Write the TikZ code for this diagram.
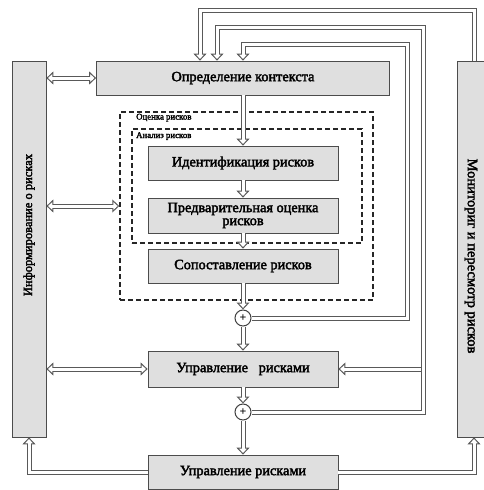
\documentclass[tikz,border=0pt]{standalone}
\usepackage{fontspec}
\setmainfont{Liberation Serif}
\newfontfamily\heavyfont[FakeBold=2.5]{Liberation Serif}
\usetikzlibrary{arrows.meta,positioning,calc}

\begin{document}
\begin{tikzpicture}[
        x=1pt, y=-1pt,
        every node/.style={align=center},
        box/.style={draw=black!70, fill=gray!25, line width=0.8pt, inner sep=2pt,
            font=\heavyfont\fontsize{14.3}{15}\selectfont, minimum width=190pt, minimum height=34pt},
        sidebox/.style={draw=black!70, fill=gray!25, line width=0.8pt, minimum width=34pt, minimum height=376pt},
        sidetext/.style={font=\heavyfont\fontsize{12.5}{14}\selectfont, inner sep=0pt},
        dashbox/.style={draw=black!85, line width=1.5pt, dash pattern=on 5pt off 3pt},
        small/.style={font=\heavyfont\fontsize{8.8}{9}\selectfont, inner sep=1pt, anchor=north west},
        head/.tip={Triangle[fill=white, color=black!65, length=7pt, width=13pt, line width=1pt]},
        tip/.style={draw=white, line width=3pt, shorten >=3.5pt,
            preaction={draw=black!65, line width=5pt, shorten >=0pt, -head}},
        tips/.style={draw=white, line width=3pt, shorten >=3.5pt, shorten <=3.5pt,
            preaction={draw=black!65, line width=5pt, shorten >=0pt, shorten <=0pt, head-head}},
        plus/.style={circle, draw=black!75, fill=white, line width=1pt, minimum size=16pt,
            inner sep=0pt, font=\bfseries\large}
    ]
    \useasboundingbox (0,0) rectangle (483,490);

    % Nodes
    \node[sidebox] (info) at (29,249) {};
    \node[sidetext, rotate=90] (infotext) at ([yshift=24pt]info) {Информирование о рисках};
    \node[sidebox] (mon) at (474,249) {};
    \node[sidetext, rotate=-90, font=\heavyfont\fontsize{14.5}{15}\selectfont] (montext) at ([xshift=-3pt, yshift=-7pt]mon) {Мониториг и пересмотр рисков};

    \node[dashbox, minimum width=253pt, minimum height=188pt] (assess) at (246.5,206) {};
    \node[small] (assesslbl) at (135,112.5) {Оценка рисков};
    \node[dashbox, minimum width=230pt, minimum height=114pt] (analysis) at (247,186) {};
    \node[small] (analysislbl) at (135,131) {Анализ рисков};

    \node[box, minimum width=293pt] (ctx) at (243,78) {Определение контекста};
    \node[box] (ident) at (243,163) {Идентификация рисков};
    \node[box, minimum height=35pt] (prelim) at (243,215.5) {Предварительная оценка\\[-2pt]рисков};
    \node[box] (comp) at (243,266) {Сопоставление рисков};
    \node[plus] (plus1) at (243,318) {+};
    \node[box, minimum height=36pt] (mgmt) at (243,369) {Управление \ \ рисками};
    \node[plus] (plus2) at (243,412) {+};
    \node[box] (result) at (243,472) {Управление рисками};

    \coordinate (cornA) at (200,10);
    \coordinate (cornB) at (423,27);
    \coordinate (cornC) at (407,44);
    \coordinate (inA) at ([xshift=-43pt]ctx.north);
    \coordinate (inB) at ([xshift=-26pt]ctx.north);

    % Edges
    \draw[tip] (ctx) -- (ident);
    \draw[tip] (ident) -- (prelim);
    \draw[tip] (prelim) -- (comp);
    \draw[tip] (comp) -- (plus1);
    \draw[tip] (plus1) -- (mgmt);
    \draw[tip] (mgmt) -- (plus2);
    \draw[tip] (plus2) -- (result);

    \draw[tips] (info.east |- ctx) -- (ctx);
    \draw[tips] (info.east |- assess) -- (assess.west);
    \draw[tips] (info.east |- mgmt) -- (mgmt);

    \draw[tip] (cornB |- mgmt) -- (mgmt);
    \draw[tip] (mon.north) |- (cornA) -- (inA);
    \draw[tip] (plus2.east) -| (cornB) -| (inB);
    \draw[tip] (plus1.east) -| (cornC) -| (ctx.north);

    \draw[tip] (result.west) -| (info.south);
    \draw[tip] (result.east) -| (mon.south);

\end{tikzpicture}
\end{document}
